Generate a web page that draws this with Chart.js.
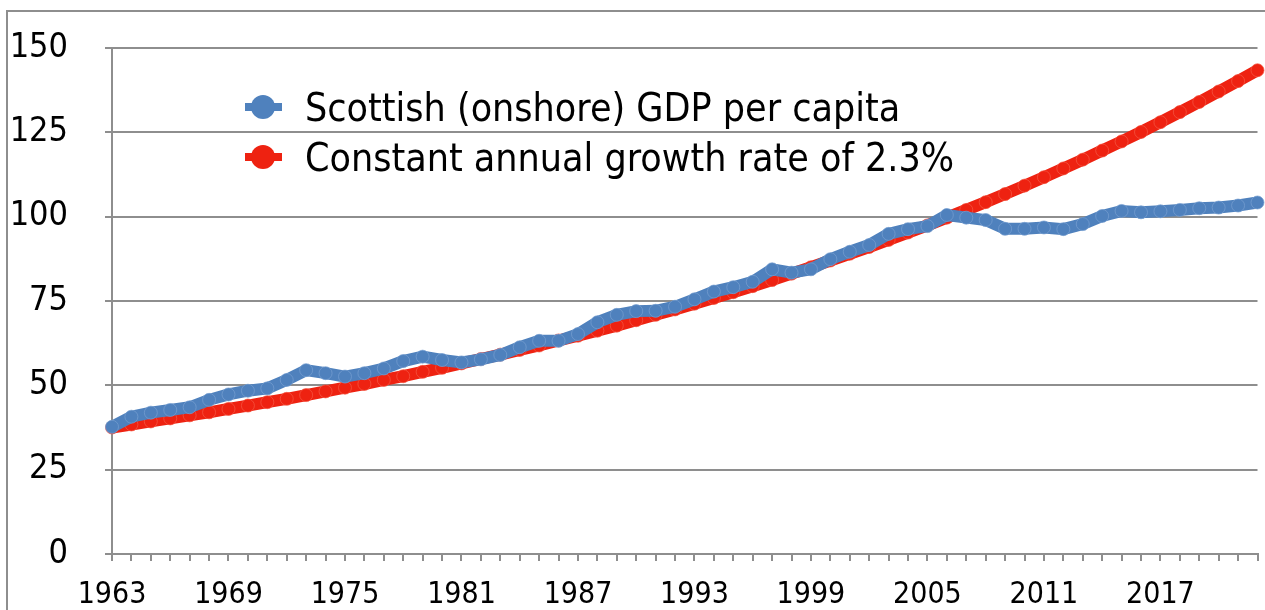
<!DOCTYPE html>
<html>
<head>
<meta charset="utf-8">
<script src="https://cdn.jsdelivr.net/npm/chart.js@4.4.1/dist/chart.umd.min.js"></script>
<style>
  body { margin: 0; background: #fff; overflow: hidden; }
  #wrap { position: relative; width: 1265px; height: 610px; overflow: hidden; font-family: "DejaVu Sans Condensed", "DejaVu Sans", sans-serif; }
  #frame { position: absolute; left: 6px; top: 10px; width: 2000px; height: 2000px; border-top: 2px solid #8e8e8e; border-left: 2px solid #8e8e8e; }
  #gdpChart { position: absolute; left: 0; top: 0; }
  #legend { position: absolute; left: 245px; top: 82px; }
  .item { display: flex; align-items: center; height: 50px; font-size: 39px; color: #000; white-space: nowrap; }
  .mark { position: relative; width: 37px; height: 24px; margin-right: 23px; }
  .mark .ln { position: absolute; left: 0; right: 0; top: 8px; height: 8px; }
  .mark .dot { position: absolute; left: 6px; top: 0; width: 24px; height: 24px; border-radius: 50%; }
</style>
</head>
<body>
<div id="wrap">
  <div id="frame"></div>
  <canvas id="gdpChart" width="1265" height="610"></canvas>
  <div id="legend"></div>
</div>
<script>
const years = [];
for (let y = 1963; y <= 2022; y++) years.push(String(y));

// Scottish (onshore) GDP per capita, index (2006 ~ 100)
const scottishGdp = [
  37.7, 40.7, 41.9, 42.7, 43.5, 45.7, 47.3, 48.4, 49.1, 51.6,
  54.5, 53.6, 52.6, 53.6, 55.0, 57.2, 58.5, 57.5, 56.8, 57.7,
  59.0, 61.3, 63.2, 63.2, 65.2, 68.7, 70.9, 72.0, 72.1, 73.3,
  75.5, 77.8, 79.1, 80.7, 84.4, 83.4, 84.4, 87.4, 89.6, 91.6,
  94.9, 96.3, 97.2, 100.5, 99.7, 99.0, 96.4, 96.4, 96.8, 96.3,
  97.8, 100.2, 101.7, 101.3, 101.6, 102.0, 102.5, 102.7, 103.3, 104.2
];

// Constant annual growth rate of 2.3%
const constantGrowth = [
  37.5, 38.4, 39.3, 40.2, 41.1, 42.0, 43.0, 44.0, 45.0, 46.0,
  47.1, 48.2, 49.3, 50.4, 51.6, 52.7, 54.0, 55.2, 56.5, 57.8,
  59.1, 60.5, 61.8, 63.3, 64.7, 66.2, 67.7, 69.3, 70.9, 72.5,
  74.2, 75.9, 77.6, 79.4, 81.2, 83.1, 85.0, 87.0, 89.0, 91.0,
  93.1, 95.3, 97.4, 99.7, 102.0, 104.3, 106.7, 109.2, 111.7, 114.3,
  116.9, 119.6, 122.3, 125.1, 128.0, 131.0, 134.0, 137.1, 140.2, 143.4
];

const seriesLabels = ['Scottish (onshore) GDP per capita', 'Constant annual growth rate of 2.3%'];
const seriesColors = ['#4f81bd', '#ee2211'];

const yTicks = [0, 25, 50, 75, 100, 125, 150];

const gridGrey = '#8e8e8e';
const fontFamily = '"DejaVu Sans Condensed", "DejaVu Sans", sans-serif';

const chart = new Chart(document.getElementById('gdpChart'), {
  type: 'line',
  data: {
    labels: years,
    datasets: [
      {
        label: seriesLabels[0],
        data: scottishGdp,
        borderColor: seriesColors[0],
        backgroundColor: seriesColors[0],
        borderWidth: 12,
        pointRadius: 6.5,
        pointBorderWidth: 1,
        pointBorderColor: 'rgba(120,160,210,0.7)',
        tension: 0
      },
      {
        label: seriesLabels[1],
        data: constantGrowth,
        borderColor: seriesColors[1],
        backgroundColor: seriesColors[1],
        borderWidth: 12,
        pointRadius: 6.5,
        pointBorderWidth: 1,
        pointBorderColor: 'rgba(245,90,70,0.7)',
        tension: 0
      }
    ]
  },
  options: {
    responsive: false,
    devicePixelRatio: 1,
    animation: false,
    layout: { padding: { top: 48, right: 6, left: 0, bottom: 0 } },
    plugins: {
      legend: { display: false },
      tooltip: { enabled: false }
    },
    scales: {
      x: {
        type: 'category',
        offset: false,
        // keep the plot area where the reference has it
        afterFit: s => { s.height = 56; s.paddingLeft = 0; s.paddingRight = 0; },
        grid: { drawOnChartArea: false, drawTicks: true, tickLength: 7, color: gridGrey, lineWidth: 2 },
        border: { color: gridGrey, width: 2 },
        ticks: {
          autoSkip: false,
          maxRotation: 0,
          padding: 16,
          color: '#000',
          font: { family: fontFamily, size: 30 },
          callback: function (v, i) { return i % 6 === 0 ? this.getLabelForValue(v) : ''; }
        }
      },
      y: {
        min: 0,
        max: 150,
        afterFit: s => { s.width = 112; s.paddingTop = 0; s.paddingBottom = 0; },
        afterBuildTicks: s => { s.ticks = yTicks.map(v => ({ value: v })); },
        grid: { drawTicks: true, tickLength: 7, color: gridGrey, lineWidth: 2 },
        border: { color: gridGrey, width: 2 },
        ticks: {
          padding: 37,
          color: '#000',
          font: { family: fontFamily, size: 34 }
        }
      }
    }
  }
});

// legend drawn as html inside the plot area
const legend = document.getElementById('legend');
chart.data.datasets.forEach(ds => {
  const item = document.createElement('div');
  item.className = 'item';
  item.innerHTML = '<div class="mark"><div class="ln" style="background:' + ds.borderColor + '"></div>' +
    '<div class="dot" style="background:' + ds.borderColor + '"></div></div><span>' + ds.label + '</span>';
  legend.appendChild(item);
});
</script>
</body>
</html>
